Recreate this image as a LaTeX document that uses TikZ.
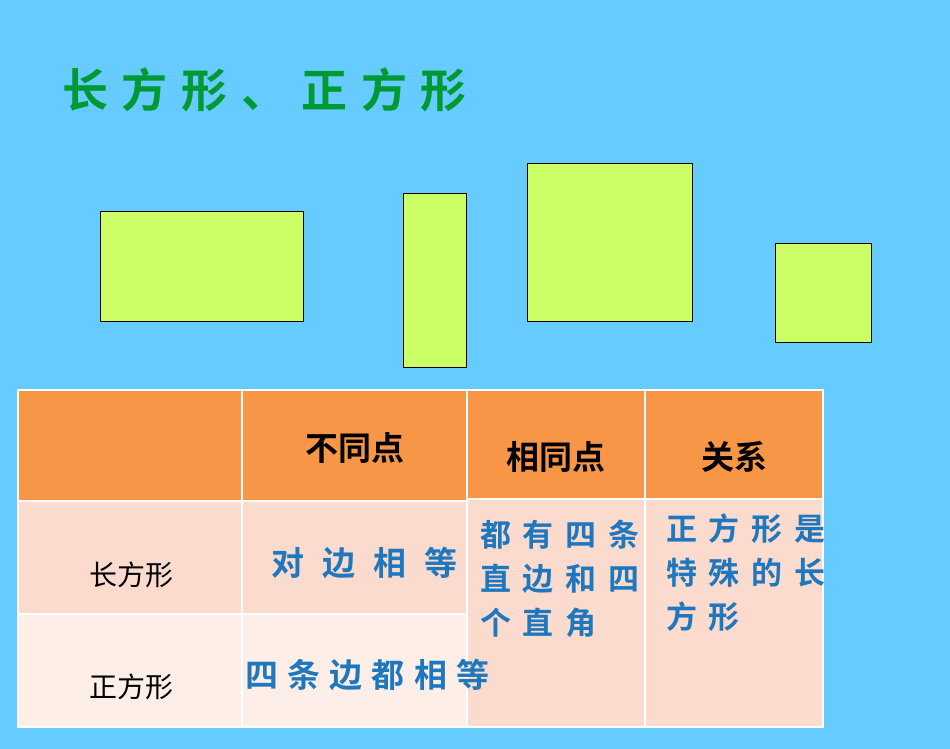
\documentclass[tikz,border=0pt]{standalone}
\usepackage{fontspec}
\newfontfamily\cjkb{Noto Sans CJK SC Bold}
\newfontfamily\cjkr{Noto Sans CJK SC}
\newfontfamily\cjkbA[LetterSpace=30]{Noto Sans CJK SC Bold}
\newfontfamily\cjkbB[LetterSpace=55]{Noto Sans CJK SC Bold}
\newfontfamily\cjkbC[LetterSpace=28]{Noto Sans CJK SC Bold}
\newfontfamily\cjkbD[LetterSpace=38]{Noto Sans CJK SC Bold}
\definecolor{bg}{RGB}{102,204,255}
\definecolor{ttl}{RGB}{0,153,51}
\definecolor{shp}{RGB}{204,255,102}
\definecolor{hdr}{RGB}{247,150,70}
\definecolor{rowa}{RGB}{251,219,206}
\definecolor{rowb}{RGB}{253,238,232}
\definecolor{blu}{RGB}{31,120,190}
\tikzset{
 figbox/.style={fill=shp,draw=black,line width=0.8pt},
 cell/.style={draw=white,line width=1.5pt},
 bt/.style={text=blu,anchor=west,inner sep=0pt}
}
\begin{document}
\begin{tikzpicture}[x=1pt,y=-1pt]
\fill[bg] (0,0) rectangle (950,749);
\node[anchor=west,text=ttl,inner sep=0pt,font=\cjkbA\fontsize{46}{50}\selectfont] (title) at (62,90) {长方形、正方形};
\draw[figbox] (100,211) rectangle (303,321);
\draw[figbox] (403,193) rectangle (466,367);
\draw[figbox] (527,163) rectangle (692,321);
\draw[figbox] (775,243) rectangle (871,342);
\fill[hdr] (18,390) rectangle (467,500);
\fill[rowa] (18,502) rectangle (467,614);
\fill[rowb] (18,614) rectangle (467,727);
\fill[hdr] (467,390) rectangle (823,498);
\fill[rowa] (467,498) rectangle (823,727);
\draw[cell] (18,390) rectangle (823,727);
\draw[cell] (242,390) -- (242,727);
\draw[cell] (467,390) -- (467,727);
\draw[cell] (645,390) -- (645,727);
\draw[cell] (18,501) -- (467,501);
\draw[cell] (18,614) -- (467,614);
\draw[cell] (467,499) -- (823,499);
\node[font=\cjkb\fontsize{33}{36}\selectfont] (h1) at (355,448) {不同点};
\node[font=\cjkb\fontsize{33}{36}\selectfont] (h2) at (556,457) {相同点};
\node[font=\cjkb\fontsize{33}{36}\selectfont] (h3) at (734,457) {关系};
\node[font=\cjkr\fontsize{28}{30}\selectfont] (r1) at (131,575) {长方形};
\node[font=\cjkr\fontsize{28}{30}\selectfont] (r2) at (131,687) {正方形};
\node[bt,font=\cjkbB\fontsize{33}{36}\selectfont] (c1) at (271,563) {对边相等};
\node[bt,font=\cjkbC\fontsize{33}{36}\selectfont] (c2) at (245,675) {四条边都相等};
\node[bt,font=\cjkbD\fontsize{31}{44}\selectfont,align=left,anchor=north west] (c3) at (480,520) {都有四条\\直边和四\\个直角};
\node[bt,font=\cjkbD\fontsize{31}{44}\selectfont,align=left,anchor=north west] (c4) at (666,514) {正方形是\\特殊的长\\方形};
\end{tikzpicture}
\end{document}
